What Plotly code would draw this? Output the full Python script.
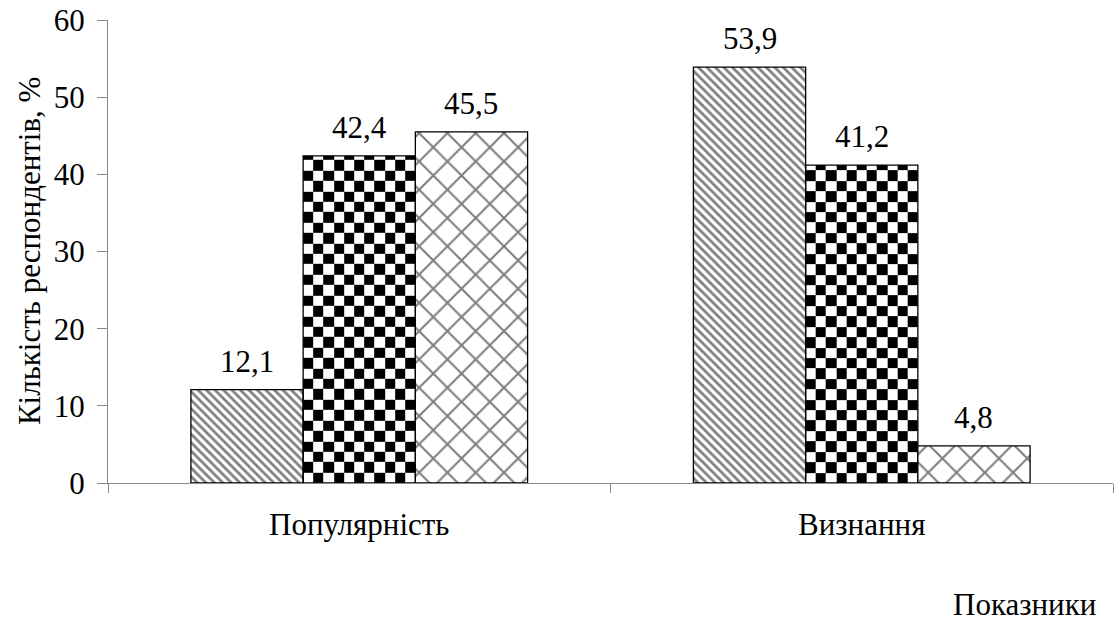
import numpy as np
import plotly.graph_objects as go

# Data
categories = ["Популярність", "Визнання"]
series_a = [12.1, 53.9]   # diagonal hatch
series_b = [42.4, 41.2]   # checkerboard
series_c = [45.5, 4.8]    # scale-like pattern
y_ticks = [0, 10, 20, 30, 40, 50, 60]

FONT = "Liberation Serif"
FS = 31
GROUP = 0.67           # share of each category occupied by the bar group
N_SERIES = 3
BAR_W = GROUP / N_SERIES
CHECK_COLS = 11        # checker cells across one bar
CHECK_ROW = 1.35       # checker cell height in axis units


def bar_centers(i):
    off = -GROUP / 2 + (i + 0.5) * BAR_W
    return [k + off for k in range(len(categories))]


def fmt(v):
    return f"{v:.1f}".replace(".", ",")


fig = go.Figure()

# Checkerboard fill for the second series, drawn as a 0/1 grid inside each bar
for xc, v in zip(bar_centers(1), series_b):
    xe = np.linspace(xc - BAR_W / 2, xc + BAR_W / 2, CHECK_COLS + 1)
    ye = list(np.arange(0, v, CHECK_ROW))
    if v - ye[-1] > 1e-6:
        ye.append(v)
    ye = np.array(ye)
    z = [[(r + c) % 2 for c in range(CHECK_COLS)] for r in range(len(ye) - 1)]
    fig.add_trace(go.Heatmap(
        x=xe, y=ye, z=z, zmin=0, zmax=1,
        colorscale=[[0, "white"], [1, "black"]],
        showscale=False, hoverinfo="skip", zsmooth=False,
    ))

line = dict(color="black", width=1.3)
fig.add_trace(go.Bar(
    x=bar_centers(0), y=series_a, width=BAR_W,
    marker=dict(color="white", line=line,
                pattern=dict(shape="\\", fgcolor="black", bgcolor="white",
                             size=6, solidity=0.45)),
))
fig.add_trace(go.Bar(
    x=bar_centers(1), y=series_b, width=BAR_W,
    marker=dict(color="rgba(0,0,0,0)", line=line),
))
fig.add_trace(go.Bar(
    x=bar_centers(2), y=series_c, width=BAR_W,
    marker=dict(color="white", line=line,
                pattern=dict(shape="x", fgcolor="black", bgcolor="white",
                             size=20, solidity=0.2)),
))

# Value labels above bars
for i, vals in enumerate([series_a, series_b, series_c]):
    for xc, v in zip(bar_centers(i), vals):
        fig.add_annotation(x=xc, y=v, text=fmt(v), showarrow=False,
                           yanchor="bottom", yshift=9,
                           font=dict(family=FONT, size=FS, color="black"))

fig.add_annotation(
    text="Кількість респондентів, %", textangle=-90, showarrow=False,
    xref="paper", yref="paper", x=-0.078, y=0.5, xanchor="center", yanchor="middle",
    font=dict(family=FONT, size=FS, color="black"),
)
fig.add_annotation(
    text="Показники", showarrow=False,
    xref="paper", yref="paper", x=0.985, y=-0.263, xanchor="right", yanchor="middle",
    font=dict(family=FONT, size=FS, color="black"),
)

fig.update_layout(
    width=1114, height=624,
    margin=dict(l=108, r=1, t=20, b=141),
    paper_bgcolor="white", plot_bgcolor="white",
    barmode="overlay", showlegend=False,
    font=dict(family=FONT, size=FS, color="black"),
)
fig.update_xaxes(
    range=[-0.5, len(categories) - 0.5],
    tickvals=list(range(len(categories))), ticktext=categories,
    ticks="", ticklabelstandoff=14,
    showline=True, linecolor="#898989", linewidth=1.3,
    showgrid=False, zeroline=False,
    minor=dict(tickvals=[k - 0.5 for k in range(len(categories) + 1)],
               ticks="outside", ticklen=9, tickcolor="#898989", tickwidth=1.3),
    tickfont=dict(family=FONT, size=FS, color="black"),
)
fig.update_yaxes(
    range=[0, 60], tickvals=y_ticks,
    ticks="outside", ticklen=10, tickcolor="#898989", tickwidth=1.3,
    ticklabelstandoff=6,
    showline=True, linecolor="#898989", linewidth=1.3,
    showgrid=False, zeroline=False,
    tickfont=dict(family=FONT, size=FS, color="black"),
)

fig.write_html("out.html")
